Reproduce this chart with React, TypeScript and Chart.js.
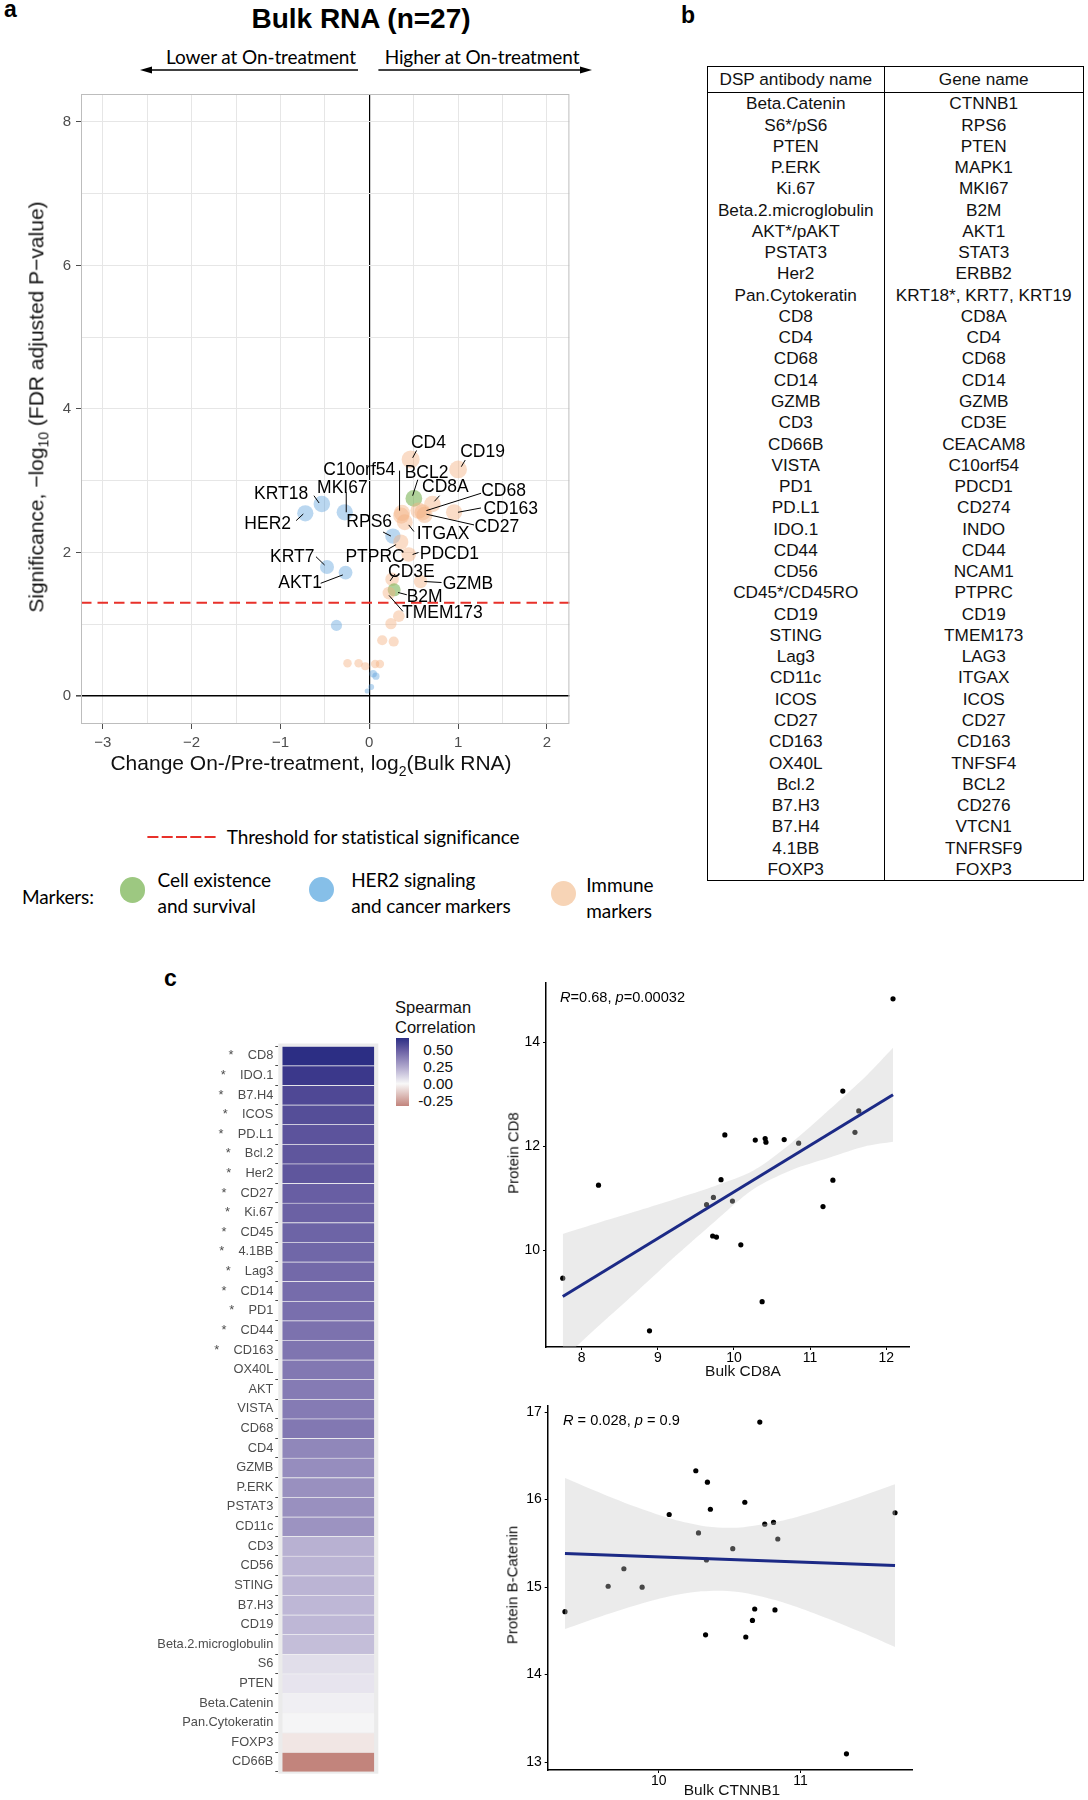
import React, { useEffect, useRef } from 'react';
import { Chart, registerables } from 'chart.js';

Chart.register(...registerables);

const SANS = '"Liberation Sans", Arial, Helvetica, sans-serif';
const HUMANIST = 'Lato, "Open Sans", sans-serif';
Chart.defaults.font.family = SANS;

// ================= Panel a: volcano =================
const volcanoGenes = [
  'CD4', 'CD19', 'C10orf54', 'BCL2', 'CD8A', 'CD68', 'CD163', 'CD27', 'ITGAX', 'RPS6',
  'PTPRC', 'PDCD1', 'CD3E', 'GZMB', 'B2M', 'TMEM173', 'KRT18', 'HER2', 'MKI67', 'KRT7',
  'AKT1', '', '', '', '', '', '', '', '', '', '', '', '', '', '', '', '',
];
const volcanoLog2FC = [
  0.466, 1.0, 0.368, 0.502, 0.711, 0.6, 0.955, 0.622, 0.4, 0.266,
  0.355, 0.444, 0.257, 0.577, 0.28, 0.222, -0.534, -0.72, -0.276, -0.476,
  -0.267, 0.36, 0.555, 0.333, 0.244, 0.146, 0.275, -0.245, -0.12, -0.045, 0.066, 0.12,
  -0.369, 0.044, 0.075, 0.022, -0.023,
];
const volcanoNegLog10FDR = [
  3.297, 3.159, 2.553, 2.755, 2.677, 2.562, 2.562, 2.525, 2.424, 2.231,
  2.149, 1.974, 1.63, 1.598, 1.483, 1.437, 2.677, 2.548, 2.562, 1.8,
  1.722, 2.516, 2.585, 1.116, 1.01, 0.78, 0.762, 0.459, 0.459, 0.418, 0.45, 0.45,
  0.987, 0.312, 0.28, 0.129, 0.073,
];
const volcanoGroup = [
  'immune', 'immune', 'immune', 'survival', 'immune', 'immune', 'immune', 'immune', 'immune', 'her2',
  'immune', 'immune', 'immune', 'immune', 'survival', 'immune', 'her2', 'her2', 'her2', 'her2',
  'her2', 'immune', 'immune', 'immune', 'immune', 'immune', 'immune', 'immune', 'immune', 'immune', 'immune', 'immune',
  'her2', 'her2', 'her2', 'her2', 'her2',
];
const significanceThreshold = 1.301;
const volcanoXTicks = [-3, -2.5, -2, -1.5, -1, -0.5, 0, 0.5, 1, 1.5, 2];
const volcanoYTicks = [0, 1, 2, 3, 4, 5, 6, 7, 8];

// annotation layout (px): [textDx, textDy, segStartDx, segStartDy, segEndDx, segEndDy]
const labelLayout: Record<string, number[]> = {
  CD4: [17.8, -17.3, 2, -1.7, 5.9, -9],
  CD19: [24.5, -18.3, 3.2, -2.7, 7.1, -9.3],
  C10orf54: [-42.7, -44, -2.4, -2.3, -2.4, -42.3],
  BCL2: [12.7, -26.7, -1.2, -2.7, 3.9, -18.7],
  CD8A: [13, -17.7, 2, -2.7, 7.1, -8.3],
  CD68: [81, -21.7, 3.9, -1.7, 58.5, -19],
  CD163: [56.6, -4, 3.9, 0, 26.9, -4.3],
  CD27: [72.3, 11.3, 2, -0.7, 49.5, 10],
  ITGAX: [38.3, 11, 3.9, 2.7, 9.1, 9.3],
  RPS6: [-23.7, -14.7, -2, 0, -9.8, -4],
  PTPRC: [-25.7, 14, -4.7, 2.7, -14.6, 8.3],
  PDCD1: [40.7, -1.7, 3.9, 0, 9.8, -2],
  CD3E: [19.3, -8.3, -2, 1.7, 2.7, -5],
  GZMB: [47.4, 1.7, 3.9, 0, 21, 1],
  B2M: [30.5, 6.7, 3.9, 2.7, 12.7, 5],
  TMEM173: [53.4, 19.3, 0, 2.3, 13.9, 18.3],
  KRT18: [-40.7, -10.7, -2.7, -1, -7.9, -8.3],
  HER2: [-37.6, 10, -2, 0.7, -9.1, 7.3],
  MKI67: [-2.4, -25, 1.5, 0, 1.5, -20],
  KRT7: [-34.7, -11.3, -2.4, -2, -11, -10.3],
  AKT1: [-45.4, 10, -2.7, 2.3, -24.9, 10.7],
};

// ================= Panel b: table =================
const tableAntibody = [
  'Beta.Catenin', 'S6*/pS6', 'PTEN', 'P.ERK', 'Ki.67', 'Beta.2.microglobulin', 'AKT*/pAKT', 'PSTAT3', 'Her2',
  'Pan.Cytokeratin', 'CD8', 'CD4', 'CD68', 'CD14', 'GZMB', 'CD3', 'CD66B', 'VISTA', 'PD1', 'PD.L1', 'IDO.1',
  'CD44', 'CD56', 'CD45*/CD45RO', 'CD19', 'STING', 'Lag3', 'CD11c', 'ICOS', 'CD27', 'CD163', 'OX40L', 'Bcl.2',
  'B7.H3', 'B7.H4', '4.1BB', 'FOXP3',
];
const tableGene = [
  'CTNNB1', 'RPS6', 'PTEN', 'MAPK1', 'MKI67', 'B2M', 'AKT1', 'STAT3', 'ERBB2',
  'KRT18*, KRT7, KRT19', 'CD8A', 'CD4', 'CD68', 'CD14', 'GZMB', 'CD3E', 'CEACAM8', 'C10orf54', 'PDCD1', 'CD274', 'INDO',
  'CD44', 'NCAM1', 'PTPRC', 'CD19', 'TMEM173', 'LAG3', 'ITGAX', 'ICOS', 'CD27', 'CD163', 'TNFSF4', 'BCL2',
  'CD276', 'VTCN1', 'TNFRSF9', 'FOXP3',
];

// ================= Panel c: heatmap =================
const heatMarkers = [
  'CD8', 'IDO.1', 'B7.H4', 'ICOS', 'PD.L1', 'Bcl.2', 'Her2', 'CD27', 'Ki.67', 'CD45', '4.1BB', 'Lag3', 'CD14',
  'PD1', 'CD44', 'CD163', 'OX40L', 'AKT', 'VISTA', 'CD68', 'CD4', 'GZMB', 'P.ERK', 'PSTAT3', 'CD11c', 'CD3',
  'CD56', 'STING', 'B7.H3', 'CD19', 'Beta.2.microglobulin', 'S6', 'PTEN', 'Beta.Catenin', 'Pan.Cytokeratin',
  'FOXP3', 'CD66B',
];
const heatRho = [
  0.68, 0.64, 0.58, 0.56, 0.54, 0.53, 0.53, 0.5, 0.49, 0.48, 0.47, 0.46, 0.45,
  0.44, 0.43, 0.42, 0.41, 0.4, 0.4, 0.41, 0.36, 0.34, 0.33, 0.33, 0.32, 0.22,
  0.21, 0.21, 0.2, 0.2, 0.18, 0.08, 0.06, 0.028, 0.01,
  -0.05, -0.33,
];
const heatSignificant = [
  true, true, true, true, true, true, true, true, true, true, true, true, true,
  true, true, true, false, false, false, false, false, false, false, false, false, false,
  false, false, false, false, false, false, false, false, false, false, false,
];
const rhoLimits = [-0.33, 0.68];
const colorbarTicks = [0.5, 0.25, 0, -0.25];

// ================= Panel c: scatter plots =================
const cd8Bulk = [7.75, 8.22, 8.89, 9.64, 9.73, 9.83, 9.88, 9.72, 9.77, 9.98, 10.09, 10.28, 10.37, 10.41, 10.42, 10.66, 10.85, 11.17, 11.3, 11.43, 11.59, 11.64, 12.09];
const cd8Protein = [9.47, 11.255, 8.46, 10.88, 11.02, 11.36, 12.22, 10.28, 10.26, 10.95, 10.11, 12.12, 9.02, 12.15, 12.08, 12.13, 12.06, 10.845, 11.35, 13.06, 12.27, 12.68, 14.83];
const cd8FitX = [7.75, 12.09];
const cd8FitY = [9.12, 12.99];
const cd8BandX = [7.75, 8.25, 8.75, 9.25, 9.75, 10.25, 10.75, 11.25, 11.75, 12.09];
const cd8BandUpper = [10.32, 10.55, 10.77, 11.0, 11.24, 11.53, 12.06, 12.7, 13.37, 13.89];
const cd8BandLower = [7.92, 8.59, 9.25, 9.92, 10.56, 11.17, 11.54, 11.78, 12.01, 12.09];
const cd8XTicks = [8, 9, 10, 11, 12];
const cd8YTicks = [10, 12, 14];

const ctnBulk = [9.337, 9.642, 9.753, 9.882, 10.073, 10.261, 10.28, 10.343, 10.364, 10.336, 10.33, 10.522, 10.607, 10.614, 10.661, 10.677, 10.713, 10.748, 10.81, 10.82, 10.84, 11.325, 11.668];
const ctnProtein = [14.72, 15.01, 15.21, 15.0, 15.83, 16.33, 15.62, 16.2, 15.89, 15.31, 14.455, 15.44, 15.97, 14.43, 14.62, 14.75, 16.886, 15.72, 15.74, 14.74, 15.55, 13.095, 15.85];
const ctnFitX = [9.337, 11.668];
const ctnFitY = [15.384, 15.247];
const ctnBandX = [9.337, 9.6, 9.85, 10.1, 10.3, 10.45, 10.6, 10.85, 11.1, 11.4, 11.668];
const ctnBandUpper = [16.246, 16.067, 15.909, 15.775, 15.702, 15.679, 15.685, 15.752, 15.862, 16.022, 16.177];
const ctnBandLower = [14.522, 14.671, 14.799, 14.903, 14.952, 14.959, 14.935, 14.838, 14.698, 14.504, 14.317];
const ctnXTicks = [10, 11];
const ctnYTicks = [13, 14, 15, 16, 17];

// ================= colour helpers =================
const GROUP_FILL: Record<string, string> = {
  survival: 'rgba(112,173,71,0.55)',
  her2: 'rgba(91,160,220,0.42)',
  immune: 'rgba(244,177,131,0.45)',
};
const LEGEND_FILL: Record<string, string> = {
  survival: '#9dc881',
  her2: '#86bfe8',
  immune: '#f7d4b6',
};

function srgbToLab(c: number[]) {
  const lin = c.map((v) => {
    const s = v / 255;
    return s <= 0.04045 ? s / 12.92 : Math.pow((s + 0.055) / 1.055, 2.4);
  });
  const X = (0.4124 * lin[0] + 0.3576 * lin[1] + 0.1805 * lin[2]) / 0.95047;
  const Y = 0.2126 * lin[0] + 0.7152 * lin[1] + 0.0722 * lin[2];
  const Z = (0.0193 * lin[0] + 0.1192 * lin[1] + 0.9505 * lin[2]) / 1.08883;
  const f = (t: number) => (t > 0.008856 ? Math.cbrt(t) : 7.787 * t + 16 / 116);
  const fx = f(X), fy = f(Y), fz = f(Z);
  return [116 * fy - 16, 500 * (fx - fy), 200 * (fy - fz)];
}
function labToSrgb(lab: number[]) {
  const fy = (lab[0] + 16) / 116;
  const fx = fy + lab[1] / 500;
  const fz = fy - lab[2] / 200;
  const inv = (f: number) => (f * f * f > 0.008856 ? f * f * f : (f - 16 / 116) / 7.787);
  const X = inv(fx) * 0.95047, Y = inv(fy), Z = inv(fz) * 1.08883;
  const r = 3.2406 * X - 1.5372 * Y - 0.4986 * Z;
  const g = -0.9689 * X + 1.8758 * Y + 0.0415 * Z;
  const b = 0.0557 * X - 0.204 * Y + 1.057 * Z;
  return [r, g, b].map((v) => {
    const s = v <= 0.0031308 ? 12.92 * v : 1.055 * Math.pow(v, 1 / 2.4) - 0.055;
    return Math.max(0, Math.min(255, Math.round(s * 255)));
  });
}
const HEAT_HIGH = srgbToLab([44, 46, 132]);
const HEAT_MID = srgbToLab([248, 248, 248]);
const HEAT_LOW = srgbToLab([194, 132, 124]);
function heatColor(v: number) {
  const t = v >= 0 ? Math.min(v / rhoLimits[1], 1) : Math.min(v / rhoLimits[0], 1);
  const end = v >= 0 ? HEAT_HIGH : HEAT_LOW;
  const lab = HEAT_MID.map((m, i) => m + (end[i] - m) * t);
  const c = labToSrgb(lab);
  return `rgb(${c[0]},${c[1]},${c[2]})`;
}

const minusFmt = (v: number) => (v < 0 ? '\u2212' + Math.abs(v) : String(v));
const bubbleRadius = (s: number) => 1.4 + 4.2 * Math.sqrt(Math.max(s, 0));

// ================= chart factories =================
function makeVolcano(canvas: HTMLCanvasElement) {
  const decor = {
    id: 'volcanoDecor',
    beforeDatasetsDraw(chart: any) {
      const { ctx, chartArea: a, scales } = chart;
      const ty = scales.y.getPixelForValue(significanceThreshold);
      ctx.save();
      ctx.strokeStyle = '#e8312a';
      ctx.lineWidth = 2;
      ctx.setLineDash([10.5, 6]);
      ctx.beginPath();
      ctx.moveTo(a.left, ty);
      ctx.lineTo(a.right, ty);
      ctx.stroke();
      ctx.restore();
    },
    afterDatasetsDraw(chart: any) {
      const { ctx, chartArea: a } = chart;
      const meta = chart.getDatasetMeta(0);
      ctx.save();
      ctx.strokeStyle = '#000';
      ctx.lineWidth = 1;
      ctx.fillStyle = '#000';
      ctx.font = `17.5px ${SANS}`;
      ctx.textAlign = 'center';
      ctx.textBaseline = 'middle';
      volcanoGenes.forEach((g, i) => {
        const L = labelLayout[g];
        if (!g || !L) return;
        const el = meta.data[i];
        ctx.beginPath();
        ctx.moveTo(el.x + L[2], el.y + L[3]);
        ctx.lineTo(el.x + L[4], el.y + L[5]);
        ctx.stroke();
        ctx.fillText(g, el.x + L[0], el.y + L[1] + 1);
      });
      ctx.strokeStyle = '#bdbdbd';
      ctx.strokeRect(a.left + 0.5, a.top + 0.5, a.width - 1, a.height - 1);
      ctx.restore();
    },
  };
  return new Chart(canvas, {
    type: 'scatter',
    data: {
      datasets: [
        {
          data: volcanoLog2FC.map((x, i) => ({ x, y: volcanoNegLog10FDR[i] })),
          pointRadius: volcanoNegLog10FDR.map(bubbleRadius),
          pointHoverRadius: volcanoNegLog10FDR.map(bubbleRadius),
          backgroundColor: volcanoGroup.map((g) => GROUP_FILL[g]),
          borderWidth: 0,
        },
      ],
    },
    options: {
      responsive: false,
      animation: false,
      events: [],
      layout: { padding: { left: 0, top: 7, right: 20.6, bottom: 0 } },
      plugins: { legend: { display: false }, tooltip: { enabled: false } },
      scales: {
        x: {
          type: 'linear',
          min: -3.245,
          max: 2.253,
          afterBuildTicks: (s: any) => { s.ticks = volcanoXTicks.map((v) => ({ value: v })); },
          afterFit: (s: any) => { s.height = 56; },
          ticks: {
            autoSkip: false,
            maxRotation: 0,
            color: '#4d4d4d',
            font: { size: 15 },
            padding: 5,
            callback: (v: any) => (Number.isInteger(v) ? minusFmt(v) : ''),
          },
          grid: {
            color: (c: any) => (c.tick && c.tick.value === 0 ? '#000' : '#e6e6e6'),
            lineWidth: (c: any) => (c.tick && c.tick.value === 0 ? 1.2 : 1),
            tickColor: (c: any) => (c.tick && Number.isInteger(c.tick.value) ? '#4d4d4d' : 'rgba(0,0,0,0)'),
            tickLength: 5,
          },
          border: { display: false },
        },
        y: {
          type: 'linear',
          min: -0.386,
          max: 8.386,
          afterBuildTicks: (s: any) => { s.ticks = volcanoYTicks.map((v) => ({ value: v })); },
          afterFit: (s: any) => { s.width = 81; },
          ticks: {
            autoSkip: false,
            color: '#4d4d4d',
            font: { size: 15 },
            padding: 5,
            callback: (v: any) => (v % 2 === 0 ? minusFmt(v) : ''),
          },
          grid: {
            color: (c: any) => (c.tick && c.tick.value === 0 ? '#000' : '#e6e6e6'),
            lineWidth: (c: any) => (c.tick && c.tick.value === 0 ? 1.6 : 1),
            tickColor: (c: any) => (c.tick && c.tick.value % 2 === 0 ? '#4d4d4d' : 'rgba(0,0,0,0)'),
            tickLength: 5,
          },
          border: { display: false },
        },
      },
    },
    plugins: [decor],
  } as any);
}

function makeHeatmap(canvas: HTMLCanvasElement) {
  const panelBg = {
    id: 'panelBg',
    beforeDatasetsDraw(chart: any) {
      const { ctx, chartArea: a } = chart;
      ctx.save();
      ctx.fillStyle = '#ebebeb';
      ctx.fillRect(a.left, a.top - 2.5, a.width, a.height + 4.5);
      ctx.restore();
    },
  };
  return new Chart(canvas, {
    type: 'bar',
    data: {
      labels: heatMarkers.map((m, i) => (heatSignificant[i] ? '*    ' + m : m)),
      datasets: [
        {
          data: heatMarkers.map(() => [0, 1]),
          backgroundColor: heatRho.map(heatColor),
          borderColor: 'rgba(255,255,255,0.35)',
          borderWidth: { top: 1, bottom: 0, left: 0, right: 0 },
          borderSkipped: false,
          barPercentage: 1,
          categoryPercentage: 1,
        },
      ],
    },
    options: {
      indexAxis: 'y',
      responsive: false,
      animation: false,
      events: [],
      layout: { padding: { left: 0, top: 16, right: 11.7, bottom: 18.3 } },
      plugins: { legend: { display: false }, tooltip: { enabled: false } },
      scales: {
        x: { display: false, min: -0.045, max: 1.045 },
        y: {
          afterFit: (s: any) => { s.width = 178.3; },
          ticks: { autoSkip: false, color: '#4d4d4d', font: { size: 12.8 }, padding: 2 },
          grid: { drawOnChartArea: false, drawTicks: true, tickLength: 3, tickColor: '#4d4d4d' },
          border: { display: false },
        },
      },
    },
    plugins: [panelBg],
  } as any);
}

type ScatterSpec = {
  bulk: number[]; protein: number[]; fitX: number[]; fitY: number[];
  bandX: number[]; bandUpper: number[]; bandLower: number[];
  xMin: number; xMax: number; yMin: number; yMax: number; xTicks: number[]; yTicks: number[];
  padding: { left: number; top: number; right: number; bottom: number }; yWidth: number; xHeight: number;
};

function makeScatter(canvas: HTMLCanvasElement, s: ScatterSpec) {
  return new Chart(canvas, {
    type: 'scatter',
    data: {
      datasets: [
        {
          data: s.bulk.map((x, i) => ({ x, y: s.protein[i] })),
          pointRadius: 2.6,
          backgroundColor: '#000',
          borderWidth: 0,
          order: 3,
        },
        {
          type: 'line',
          data: s.bandX.map((x, i) => ({ x, y: s.bandUpper[i] })),
          borderWidth: 0,
          pointRadius: 0,
          tension: 0.3,
          fill: '+1',
          backgroundColor: 'rgba(200,200,200,0.36)',
          order: 2,
        },
        {
          type: 'line',
          data: s.bandX.map((x, i) => ({ x, y: s.bandLower[i] })),
          borderWidth: 0,
          pointRadius: 0,
          tension: 0.3,
          fill: false,
          order: 2,
        },
        {
          type: 'line',
          data: s.fitX.map((x, i) => ({ x, y: s.fitY[i] })),
          borderColor: '#1c2a86',
          borderWidth: 3,
          pointRadius: 0,
          fill: false,
          order: 1,
        },
      ],
    },
    options: {
      responsive: false,
      animation: false,
      events: [],
      layout: { padding: s.padding },
      plugins: { legend: { display: false }, tooltip: { enabled: false } },
      scales: {
        x: {
          type: 'linear',
          min: s.xMin,
          max: s.xMax,
          afterBuildTicks: (sc: any) => { sc.ticks = s.xTicks.map((v) => ({ value: v })); },
          afterFit: (sc: any) => { sc.height = s.xHeight; },
          ticks: { autoSkip: false, maxRotation: 0, color: '#000', font: { size: 14 }, padding: 0 },
          grid: { drawOnChartArea: false, drawTicks: true, tickLength: 3, tickColor: '#000' },
          border: { display: true, color: '#000', width: 1.5 },
        },
        y: {
          type: 'linear',
          min: s.yMin,
          max: s.yMax,
          afterBuildTicks: (sc: any) => { sc.ticks = s.yTicks.map((v) => ({ value: v })); },
          afterFit: (sc: any) => { sc.width = s.yWidth; },
          ticks: { autoSkip: false, color: '#000', font: { size: 14 }, padding: 3 },
          grid: { drawOnChartArea: false, drawTicks: true, tickLength: 3, tickColor: '#000' },
          border: { display: true, color: '#000', width: 1.5 },
        },
      },
    },
  } as any);
}

// ================= React helpers =================
function ChartBox(props: { left: number; top: number; width: number; height: number; make: (c: HTMLCanvasElement) => Chart }) {
  const ref = useRef<HTMLCanvasElement>(null);
  useEffect(() => {
    const chart = props.make(ref.current as HTMLCanvasElement);
    return () => chart.destroy();
  }, []);
  return (
    <canvas
      ref={ref}
      width={props.width}
      height={props.height}
      style={{ position: 'absolute', left: props.left, top: props.top, width: props.width, height: props.height }}
    />
  );
}

type TxtProps = {
  x: number; y: number; size: number; anchor?: 'l' | 'c' | 'r'; bold?: boolean; family?: string;
  color?: string; rotate?: boolean; style?: React.CSSProperties; children: React.ReactNode;
};
function Txt({ x, y, size, anchor = 'l', bold, family = SANS, color = '#000', rotate, style, children }: TxtProps) {
  const tx = anchor === 'l' ? '0' : anchor === 'c' ? '-50%' : '-100%';
  return (
    <div
      style={{
        position: 'absolute',
        left: x,
        top: y,
        transform: rotate ? 'translate(-50%,-50%) rotate(-90deg)' : `translate(${tx},-50%)`,
        fontSize: size,
        fontWeight: bold ? 700 : 400,
        fontFamily: family,
        color,
        whiteSpace: 'nowrap',
        lineHeight: 1.15,
        ...style,
      }}
    >
      {children}
    </div>
  );
}

const ROW_H = 21.27;
const HUM: React.CSSProperties = { letterSpacing: -0.1 };

export default function App() {
  const cbTop = 1038;
  const cbH = 68;
  const rhoSpan = rhoLimits[1] - rhoLimits[0];
  const stops = [rhoLimits[1], 0.5, 0.25, 0, rhoLimits[0]]
    .map((v) => `${heatColor(v)} ${(((rhoLimits[1] - v) / rhoSpan) * 100).toFixed(1)}%`)
    .join(', ');

  return (
    <div style={{ position: 'absolute', left: 0, top: 0, width: 1088, height: 1800, background: '#fff', overflow: 'hidden' }}>
      {/* ---------- panel a ---------- */}
      <Txt x={4} y={9} size={23} bold>a</Txt>
      <Txt x={361} y={18.5} size={28} bold anchor="c">Bulk RNA (n=27)</Txt>
      <Txt x={261} y={57} size={19} anchor="c" family={HUMANIST} style={HUM}>Lower at On-treatment</Txt>
      <Txt x={482} y={57} size={19} anchor="c" family={HUMANIST} style={HUM}>Higher at On-treatment</Txt>
      <svg width={620} height={90} style={{ position: 'absolute', left: 0, top: 0 }}>
        <line x1={358} y1={70} x2={148} y2={70} stroke="#000" strokeWidth={1.4} />
        <polygon points="140,70 152,66.5 152,73.5" fill="#000" />
        <line x1={378.4} y1={70} x2={584} y2={70} stroke="#000" strokeWidth={1.4} />
        <polygon points="592,70 580,66.5 580,73.5" fill="#000" />
      </svg>
      <ChartBox left={0} top={80} width={590} height={700} make={makeVolcano} />
      <Txt x={38} y={407} size={21} rotate color="#111">
        Significance, −log<sub style={{ fontSize: 14 }}>10</sub> (FDR adjusted P−value)
      </Txt>
      <Txt x={311} y={765} size={21} anchor="c" color="#111">
        Change On-/Pre-treatment, log<sub style={{ fontSize: 14 }}>2</sub>(Bulk RNA)
      </Txt>

      <svg width={80} height={10} style={{ position: 'absolute', left: 145, top: 832 }}>
        <line x1={2.4} y1={5} x2={70.7} y2={5} stroke="#e8312a" strokeWidth={2} strokeDasharray="11,3.3" />
      </svg>
      <Txt x={226.7} y={837} size={19} family={HUMANIST} style={HUM}>Threshold for statistical significance</Txt>
      <Txt x={22} y={897} size={19} family={HUMANIST} style={HUM}>Markers:</Txt>
      {[
        { key: 'survival', cx: 132.5, cy: 890, lines: ['Cell existence', 'and survival'], tx: 157.6, ty: 880 },
        { key: 'her2', cx: 321.3, cy: 889.7, lines: ['HER2 signaling', 'and cancer markers'], tx: 351.2, ty: 880 },
        { key: 'immune', cx: 563.8, cy: 893.7, lines: ['Immune', 'markers'], tx: 586.3, ty: 885 },
      ].map((m) => (
        <React.Fragment key={m.key}>
          <div
            style={{
              position: 'absolute', left: m.cx - 12.7, top: m.cy - 12.7, width: 25.4, height: 25.4,
              borderRadius: '50%', background: LEGEND_FILL[m.key],
            }}
          />
          <Txt x={m.tx} y={m.ty} size={19} family={HUMANIST} style={HUM}>{m.lines[0]}</Txt>
          <Txt x={m.tx} y={m.ty + 26} size={19} family={HUMANIST} style={HUM}>{m.lines[1]}</Txt>
        </React.Fragment>
      ))}

      {/* ---------- panel b ---------- */}
      <Txt x={681} y={15} size={23} bold>b</Txt>
      <div
        style={{
          position: 'absolute', left: 706.5, top: 66, width: 377, boxSizing: 'border-box',
          border: '1.5px solid #000', fontFamily: SANS, fontSize: 17.2, color: '#111',
        }}
      >
        <div style={{ display: 'flex', height: 25.3, borderBottom: '1.5px solid #000', alignItems: 'center' }}>
          <div style={{ width: 176.5, textAlign: 'center', borderRight: '1.5px solid #000', height: '100%', lineHeight: '25.3px' }}>DSP antibody name</div>
          <div style={{ flex: 1, textAlign: 'center', lineHeight: '25.3px' }}>Gene name</div>
        </div>
        {tableAntibody.map((ab, i) => (
          <div key={ab} style={{ display: 'flex', height: ROW_H }}>
            <div style={{ width: 176.5, textAlign: 'center', borderRight: '1.5px solid #000', lineHeight: ROW_H + 'px' }}>{ab}</div>
            <div style={{ flex: 1, textAlign: 'center', lineHeight: ROW_H + 'px' }}>{tableGene[i]}</div>
          </div>
        ))}
      </div>

      {/* ---------- panel c: heatmap ---------- */}
      <Txt x={164} y={978} size={23} bold>c</Txt>
      <ChartBox left={100} top={1030} width={290} height={760} make={makeHeatmap} />
      <Txt x={395} y={1007} size={16.5} color="#111">Spearman</Txt>
      <Txt x={395} y={1027} size={16.5} color="#111">Correlation</Txt>
      <div
        style={{
          position: 'absolute', left: 396, top: cbTop, width: 12.5, height: cbH,
          background: `linear-gradient(to bottom, ${stops})`,
        }}
      />
      {colorbarTicks.map((v) => (
        <Txt key={v} x={453} y={cbTop + ((rhoLimits[1] - v) / rhoSpan) * cbH} size={15.3} anchor="r" color="#111">
          {v.toFixed(2)}
        </Txt>
      ))}

      {/* ---------- panel c: scatter CD8 ---------- */}
      <ChartBox
        left={480}
        top={960}
        width={440}
        height={420}
        make={(c) =>
          makeScatter(c, {
            bulk: cd8Bulk, protein: cd8Protein, fitX: cd8FitX, fitY: cd8FitY,
            bandX: cd8BandX, bandUpper: cd8BandUpper, bandLower: cd8BandLower,
            xMin: 7.53, xMax: 12.3, yMin: 8.15, yMax: 15.14, xTicks: cd8XTicks, yTicks: cd8YTicks,
            padding: { left: 0, top: 22.7, right: 11, bottom: 0 }, yWidth: 66, xHeight: 33,
          })
        }
      />
      <Txt x={560} y={997} size={14.6}>
        <i>R</i>=0.68, <i>p</i>=0.00032
      </Txt>
      <Txt x={513} y={1153} size={15} rotate color="#111">Protein CD8</Txt>
      <Txt x={743} y={1371} size={15.5} anchor="c" color="#111">Bulk CD8A</Txt>

      {/* ---------- panel c: scatter Beta-catenin ---------- */}
      <ChartBox
        left={480}
        top={1380}
        width={440}
        height={420}
        make={(c) =>
          makeScatter(c, {
            bulk: ctnBulk, protein: ctnProtein, fitX: ctnFitX, fitY: ctnFitY,
            bandX: ctnBandX, bandUpper: ctnBandUpper, bandLower: ctnBandLower,
            xMin: 9.215, xMax: 11.79, yMin: 12.91, yMax: 17.07, xTicks: ctnXTicks, yTicks: ctnYTicks,
            padding: { left: 0, top: 26, right: 7.7, bottom: 0 }, yWidth: 67.7, xHeight: 30,
          })
        }
      />
      <Txt x={563} y={1420} size={14.6}>
        <i>R</i> = 0.028, <i>p</i> = 0.9
      </Txt>
      <Txt x={512} y={1585} size={15} rotate color="#111">Protein B-Catenin</Txt>
      <Txt x={732} y={1790} size={15.5} anchor="c" color="#111">Bulk CTNNB1</Txt>
    </div>
  );
}
